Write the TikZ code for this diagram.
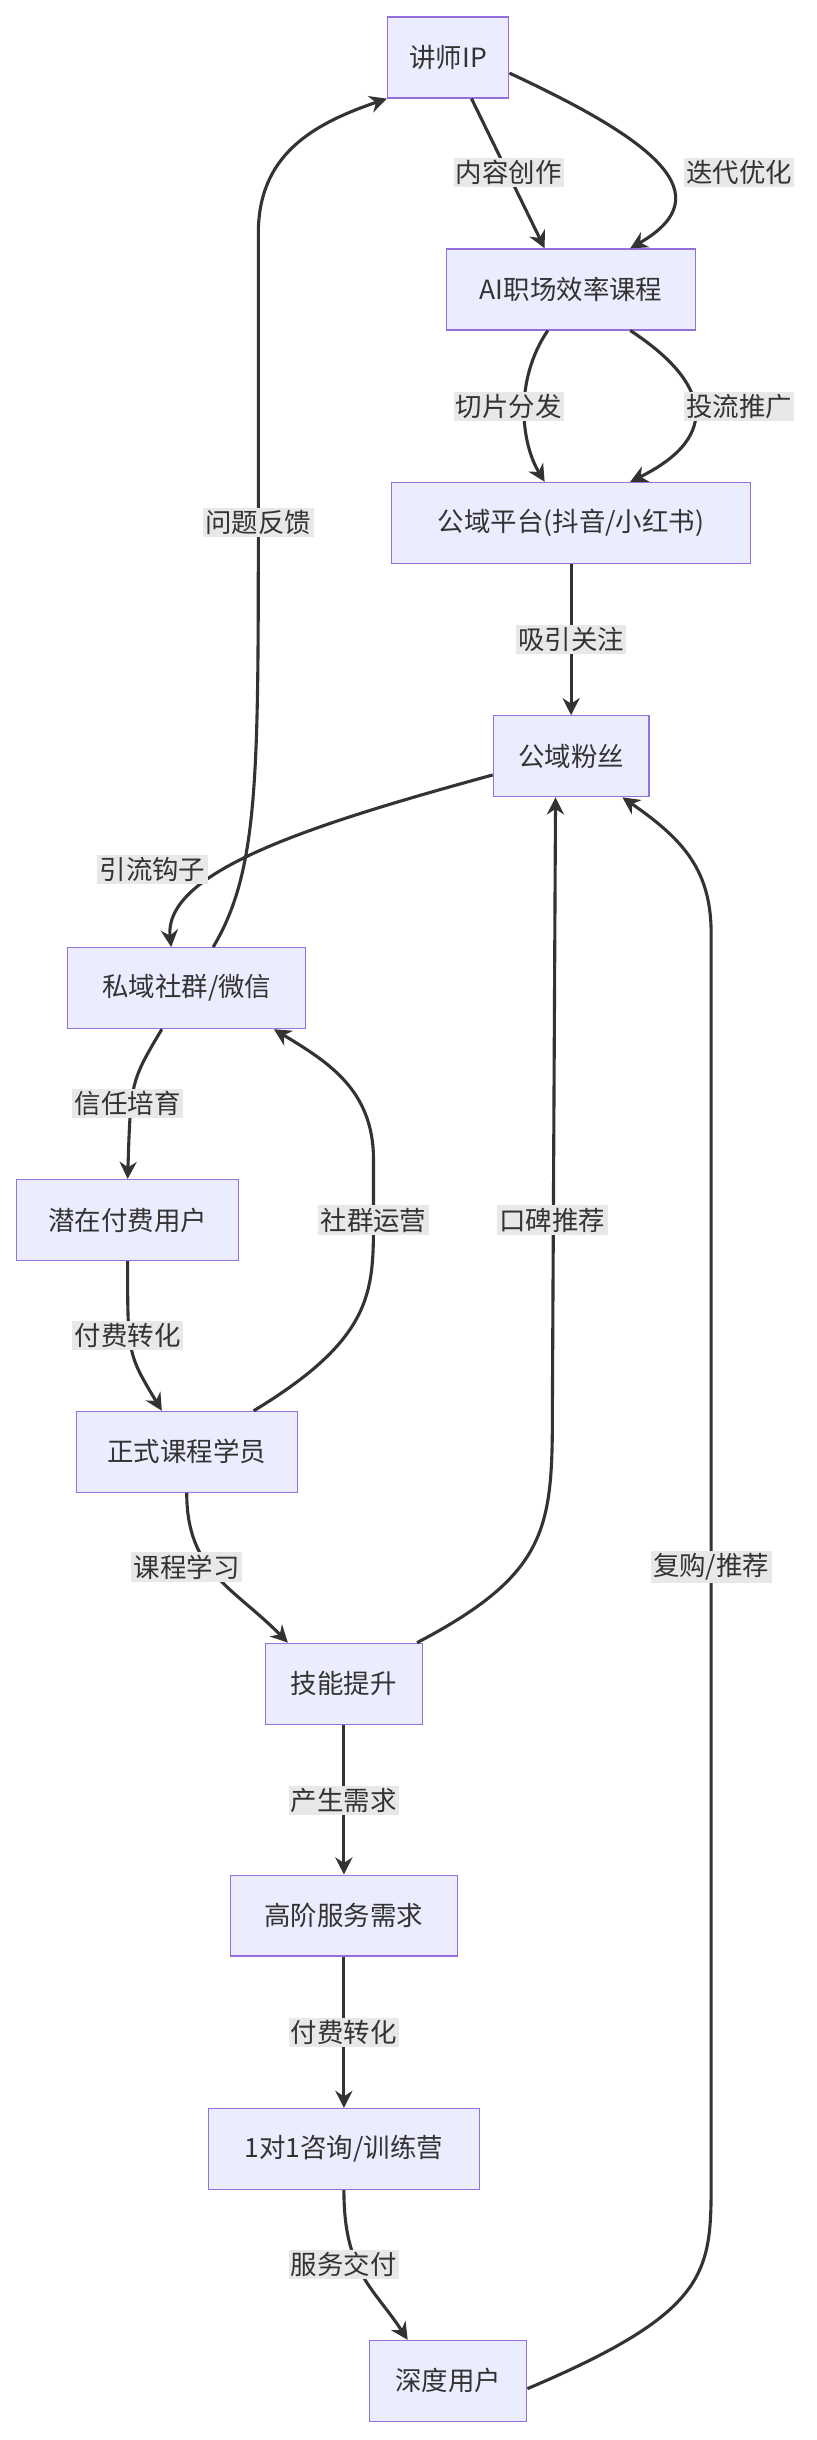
\documentclass[tikz,border=0pt]{standalone}
\usepackage{fontspec}
\setmainfont{Noto Sans CJK SC}
\usetikzlibrary{arrows.meta,calc}
\definecolor{boxfill}{HTML}{ECECFF}
\definecolor{boxline}{HTML}{9370DB}
\definecolor{edge}{HTML}{333333}
\definecolor{lblfill}{HTML}{E8E8E8}
\tikzset{
  box/.style={draw=boxline,fill=boxfill,line width=0.8pt,minimum height=52pt,inner sep=0pt,font=\fontsize{17}{20}\selectfont,text=edge},
  lbl/.style={fill=lblfill,inner sep=1.5pt,font=\fontsize{17}{20}\selectfont,text=edge},
  flow/.style={draw=edge,line width=2pt,-{Stealth[length=11pt,width=11pt]}}
}
\begin{document}
\begin{tikzpicture}[x=1pt,y=-1pt]
  \useasboundingbox (0,0) rectangle (525,1568);
  % nodes
  \node[box,minimum width=78pt] (ip) at (288,37) {讲师IP};
  \node[box,minimum width=160pt] (course) at (367,186) {AI职场效率课程};
  \node[box,minimum width=231pt] (plat) at (367,336) {公域平台(抖音/小红书)};
  \node[box,minimum width=100pt] (fans) at (367,486) {公域粉丝};
  \node[box,minimum width=153pt] (priv) at (120,635) {私域社群/微信};
  \node[box,minimum width=143pt] (poten) at (82,784) {潜在付费用户};
  \node[box,minimum width=142pt] (stud) at (120,933) {正式课程学员};
  \node[box,minimum width=101pt] (skill) at (221,1082) {技能提升};
  \node[box,minimum width=146pt] (need) at (221,1231) {高阶服务需求};
  \node[box,minimum width=174pt] (camp) at (221,1381) {1对1咨询/训练营};
  \node[box,minimum width=101pt] (deep) at (288,1530) {深度用户};
  % connectors
  \draw[flow] ([xshift=15pt]ip.south) -- ([xshift=-17pt]course.north);
  \draw[flow] ([yshift=-10pt]ip.east) .. controls (420,90) and (465,125) .. ([xshift=38pt]course.north);
  \draw[flow] ([xshift=-15pt]course.south) .. controls (330,245) and (335,285) .. ([xshift=-17pt]plat.north);
  \draw[flow] ([xshift=38pt]course.south) .. controls (455,245) and (465,280) .. ([xshift=38pt]plat.north);
  \draw[flow] (plat) -- (fans);
  \draw[flow] ([yshift=-12pt]fans.west) .. controls (200,530) and (105,560) .. ([xshift=-10pt]priv.north);
  \draw[flow] ([xshift=17pt]priv.north) .. controls (166,560) and (166,500) .. (166,336) -- (166,150) .. controls (166,100) and (200,80) .. (ip.south west);
  \draw[flow] ([xshift=-16pt]priv.south) .. controls (84,695) .. (poten.north);
  \draw[flow] (poten.south) .. controls (82,870) .. ([xshift=-16pt]stud.north);
  \draw[flow] ([xshift=43pt]stud.north) .. controls (240,860) and (240,830) .. (240,784) -- (240,745) .. controls (240,700) and (210,682) .. ([xshift=56pt]priv.south);
  \draw[flow] (stud.south) .. controls (120,1010) and (150,1020) .. ([xshift=-36pt]skill.north);
  \draw[flow] ([xshift=47pt]skill.north) .. controls (355,1010) and (355,980) .. (355,900) -- ([xshift=-10pt]fans.south);
  \draw[flow] (skill) -- (need);
  \draw[flow] (need) -- (camp);
  \draw[flow] (camp.south) .. controls (221,1460) and (240,1470) .. ([xshift=-26pt]deep.north);
  \draw[flow] ([yshift=-5pt]deep.east) .. controls (457,1485) and (457,1460) .. (457,1400) -- (457,600) .. controls (457,560) and (440,540) .. ([xshift=33pt]fans.south);
  % labels
  \node[lbl] (l1) at (327,111) {内容创作};
  \node[lbl] (l2) at (475,111) {迭代优化};
  \node[lbl] (l3) at (327,261) {切片分发};
  \node[lbl] (l4) at (475,261) {投流推广};
  \node[lbl] (l5) at (367,411) {吸引关注};
  \node[lbl] (l6) at (98,559) {引流钩子};
  \node[lbl] (l7) at (166,336) {问题反馈};
  \node[lbl] (l8) at (82,709) {信任培育};
  \node[lbl] (l9) at (82,858) {付费转化};
  \node[lbl] (l10) at (240,784) {社群运营};
  \node[lbl] (l11) at (355,784) {口碑推荐};
  \node[lbl] (l12) at (120,1007) {课程学习};
  \node[lbl] (l13) at (457,1007) {复购/推荐};
  \node[lbl] (l14) at (221,1157) {产生需求};
  \node[lbl] (l15) at (221,1306) {付费转化};
  \node[lbl] (l16) at (221,1455) {服务交付};
\end{tikzpicture}
\end{document}
